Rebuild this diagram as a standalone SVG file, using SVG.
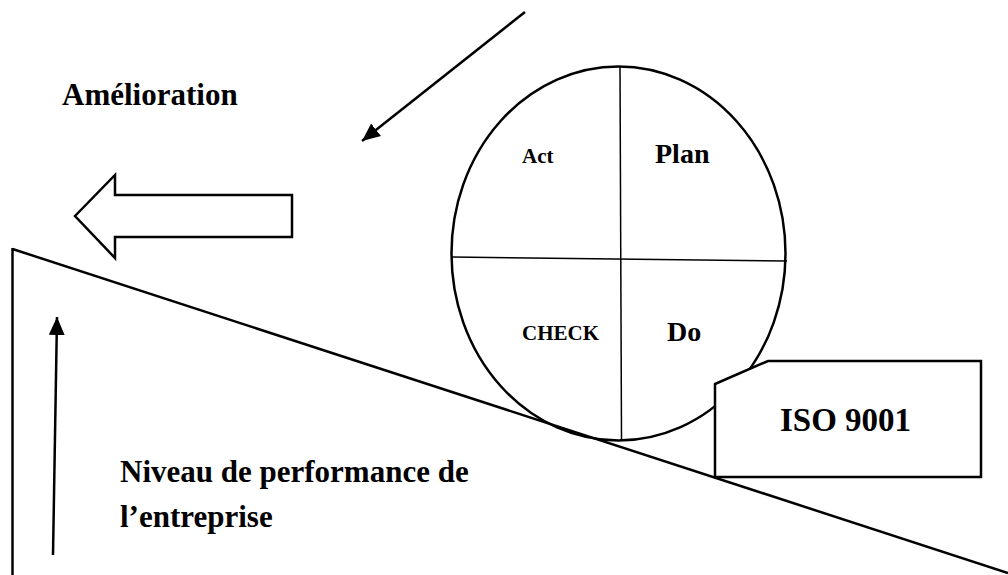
<svg xmlns="http://www.w3.org/2000/svg" width="1008" height="575" viewBox="0 0 1008 575">
  <style>
    .ln { fill: none; stroke: #000; stroke-width: 2.5; }
    .thin { fill: none; stroke: #000; stroke-width: 1.5; }
    .shape { fill: #fff; stroke: #000; stroke-width: 2.5; stroke-linejoin: miter; }
    text { font-family: 'Liberation Serif', 'Times New Roman', Tinos, 'DejaVu Serif', serif; font-weight: bold; fill: #000; }
  </style>
  <defs>
    <marker id="head" markerUnits="userSpaceOnUse" markerWidth="20" markerHeight="18" refX="18" refY="8" orient="auto">
      <path d="M0,0 L18,8 L0,16 Z" fill="#000"/>
    </marker>
  </defs>

  <rect width="1008" height="575" fill="#fff"/>

  <!-- inclined plane -->
  <g id="slope">
    <line class="ln" x1="12.5" y1="249" x2="1008" y2="573"/>
    <line class="ln" x1="12.5" y1="248" x2="12.5" y2="575"/>
  </g>

  <!-- PDCA wheel -->
  <g id="pdca">
    <ellipse class="ln" cx="618.5" cy="253.5" rx="167" ry="187"/>
    <line class="thin" x1="620" y1="67" x2="621.5" y2="440"/>
    <line class="thin" x1="452" y1="257" x2="787" y2="261"/>
    <text x="522" y="163" font-size="21">Act</text>
    <text x="655" y="163" font-size="28">Plan</text>
    <text x="522" y="340" font-size="21">CHECK</text>
    <text x="667" y="341" font-size="28">Do</text>
  </g>

  <!-- ISO 9001 wedge block -->
  <g id="iso">
    <polygon class="shape" points="715,384 768,361 981,361 981,477 715,477"/>
    <text x="780" y="431" font-size="33">ISO 9001</text>
  </g>

  <!-- improvement direction -->
  <g id="improvement">
    <polygon class="shape" points="75,216 115,175 115,195 292,195 292,237 115,237 115,258"/>
    <text x="62" y="105" font-size="31">Amélioration</text>
  </g>

  <!-- performance label -->
  <g id="performance">
    <text x="120" y="482" font-size="31">Niveau de performance de</text>
    <text x="120" y="527" font-size="31">l’entreprise</text>
  </g>

  <!-- arrows -->
  <g id="connectors">
    <line class="ln" x1="525" y1="12" x2="362" y2="141" marker-end="url(#head)"/>
    <line class="ln" x1="53" y1="555" x2="57" y2="317" marker-end="url(#head)"/>
  </g>
</svg>
